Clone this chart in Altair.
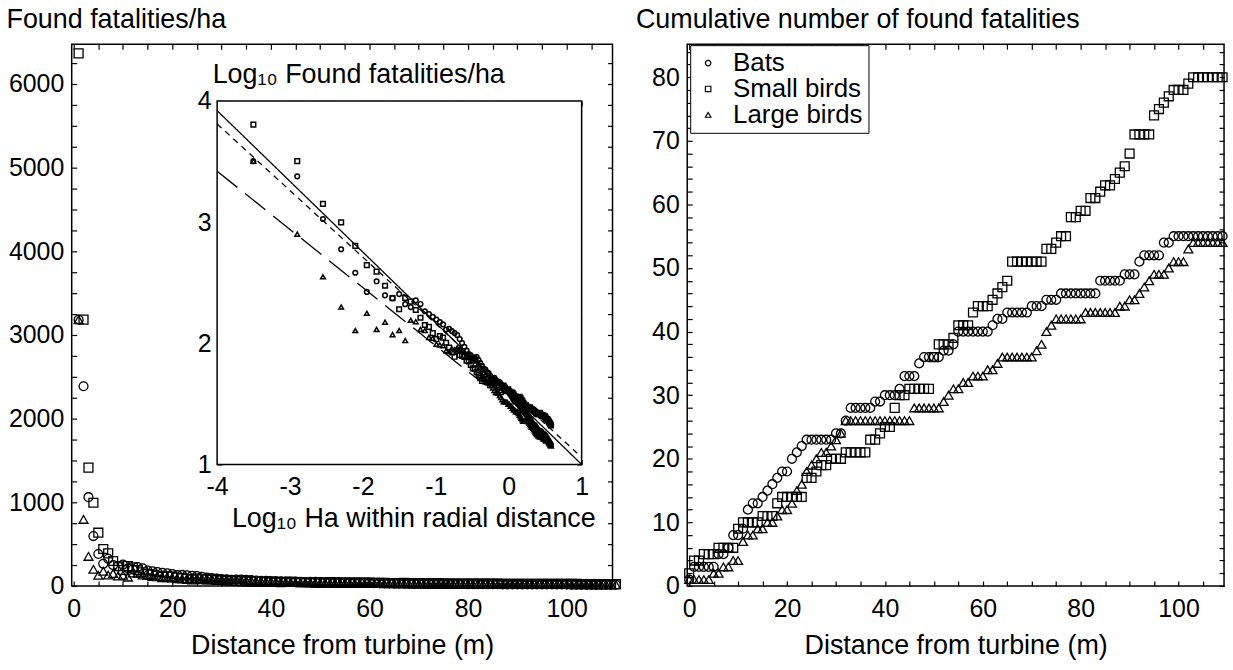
import altair as alt
import pandas as pd

FONT = "Liberation Sans"
FS = 25      # tick labels
FT = 27      # titles
FLG = 26     # legend labels

species = ["Bats", "Small birds", "Large birds"]
shapes = ["circle", "square", "triangle-up"]

# 1-m distance bins (inner radius, m)
distance_m = list(range(110))

# cumulative number of found fatalities per distance bin
bats_cum = [1, 3, 3, 3, 3, 3, 5, 5, 6, 8,
            8, 9, 12, 13, 13, 14, 15, 16, 17, 18,
            18, 20, 21, 22, 23, 23, 23, 23, 23, 23,
            24, 24, 26, 28, 28, 28, 28, 28, 29, 29,
            30, 30, 30, 31, 33, 33, 33, 35, 36, 36,
            36, 36, 37, 37, 38, 40, 40, 40, 40, 40,
            40, 40, 41, 42, 42, 43, 43, 43, 43, 43,
            44, 44, 44, 45, 45, 45, 46, 46, 46, 46,
            46, 46, 46, 46, 48, 48, 48, 48, 48, 49,
            49, 49, 51, 52, 52, 52, 52, 54, 54, 55,
            55, 55, 55, 55, 55, 55, 55, 55, 55, 55]
small_birds_cum = [2, 4, 4, 5, 5, 5, 6, 6, 6, 6,
                   9, 10, 10, 10, 10, 11, 11, 11, 13, 14,
                   14, 14, 14, 14, 17, 17, 18, 19, 19, 20,
                   20, 20, 21, 21, 21, 21, 21, 23, 23, 24,
                   25, 25, 28, 30, 30, 31, 31, 31, 31, 31,
                   36, 38, 38, 38, 39, 41, 41, 41, 43, 44,
                   44, 44, 45, 46, 47, 48, 51, 51, 51, 51,
                   51, 51, 51, 53, 53, 54, 55, 55, 58, 58,
                   59, 59, 61, 61, 62, 63, 63, 64, 65, 66,
                   68, 71, 71, 71, 71, 74, 75, 76, 77, 78,
                   78, 78, 79, 80, 80, 80, 80, 80, 80, 80]
large_birds_cum = [1, 1, 1, 1, 1, 2, 2, 3, 3, 4,
                   4, 7, 8, 8, 9, 9, 10, 10, 11, 12,
                   12, 13, 15, 16, 18, 19, 20, 21, 21, 22,
                   23, 24, 26, 26, 26, 26, 26, 26, 26, 26,
                   26, 26, 26, 26, 26, 26, 28, 28, 28, 28,
                   28, 28, 29, 30, 31, 31, 32, 32, 33, 33,
                   33, 34, 34, 35, 36, 36, 36, 36, 36, 36,
                   36, 37, 38, 40, 41, 42, 42, 42, 42, 42,
                   42, 43, 43, 43, 43, 43, 43, 43, 44, 44,
                   45, 45, 46, 47, 48, 49, 49, 49, 50, 51,
                   51, 51, 53, 54, 54, 54, 54, 54, 54, 54]

# fitted lines in the inset (log10 ha, log10 fatalities/ha)
fit_line = ["solid", "solid", "short", "short", "long", "long"]
fit_log_ha = [-4.0, 1.0, -4.0, 1.0, -4.0, -0.4]
fit_log_density = [3.92, 1.0, 3.81, 1.06, 3.42, 1.69]

# axis extents
x_dist_domain = [-0.4, 109.3]
y_density_domain = [0, 6476]
y_cum_domain = [0, 85.2]
inset_x_domain = [-4, 1]
inset_y_domain = [1, 4]

rows = []
for name, vals in zip(species, [bats_cum, small_birds_cum, large_birds_cum]):
    for d, c in zip(distance_m, vals):
        rows.append({"species": name, "dist": d, "cum": c})
df = pd.DataFrame(rows)
lines_df = pd.DataFrame({"line": fit_line, "lx": fit_log_ha, "ly": fit_log_density})
frame_df = pd.DataFrame({"x": [inset_x_domain[0]], "x2": [inset_x_domain[1]],
                         "y": [inset_y_domain[0]], "y2": [inset_y_domain[1]]})

# ---------------- layout ----------------
WL, WR, H = 543, 539, 544
TICK = 5
INSET_XR = [146, 512]
INSET_YR = [422, 57]


def ticks(start, stop, step):
    n = int(round((stop - start) / step))
    return [round(start + i * step, 6) for i in range(n + 1)]


def lab(step):
    return (f"abs(datum.value / {step} - round(datum.value / {step})) < 0.000001"
            f" ? '' + round(datum.value) : ''")


shape_scale = alt.Scale(domain=species, range=shapes)
xs_main = alt.Scale(domain=x_dist_domain, nice=False, zero=False)
ys_dens = alt.Scale(domain=y_density_domain, nice=False, zero=False)
ys_cum = alt.Scale(domain=y_cum_domain, nice=False, zero=False)
xs_in = alt.Scale(domain=inset_x_domain, range=INSET_XR, nice=False, zero=False)
ys_in = alt.Scale(domain=inset_y_domain, range=INSET_YR, nice=False, zero=False)

x_vals = ticks(0, 105, 5)

dens = alt.Chart(df).transform_calculate(
    r="datum.dist + 1",
    area_ha="PI * (datum.dist + 1) * (datum.dist + 1) / 10000",
).transform_calculate(
    density="datum.cum / datum.area_ha",
    log_ha="log(datum.area_ha) / LN10",
).transform_calculate(
    log_density="log(datum.density) / LN10",
)

L1 = dens.mark_point(filled=False, size=80, strokeWidth=1.3, color="black", opacity=1).encode(
    x=alt.X("r:Q", scale=xs_main, axis=alt.Axis(
        orient="bottom", values=x_vals, labelExpr=lab(20), offset=-TICK, labelPadding=11,
        title="Distance from turbine (m)", titleBaseline="alphabetic", titleY=73)),
    y=alt.Y("density:Q", scale=ys_dens, axis=alt.Axis(
        orient="left", values=ticks(0, 6250, 250), labelExpr=lab(1000), offset=-TICK,
        labelPadding=8, title="Found fatalities/ha", titleAngle=0, titleAlign="left",
        titleBaseline="alphabetic", titleX=-71, titleY=-17)),
    shape=alt.Shape("species:N", scale=shape_scale, legend=None),
)

L2 = dens.mark_point(opacity=0).encode(
    x=alt.X("r:Q", scale=xs_main, axis=alt.Axis(
        orient="top", values=x_vals, labels=False, offset=-TICK, title=None)),
    y=alt.Y("density:Q", scale=ys_dens, axis=alt.Axis(
        orient="right", values=ticks(0, 6250, 250), labels=False, offset=-TICK, title=None)),
)

L3 = alt.Chart(frame_df).mark_rect(fill="white", stroke="black", strokeWidth=1.5).encode(
    x=alt.X("x:Q", scale=xs_in, axis=alt.Axis(
        orient="bottom", values=ticks(-4, 1, 0.2), labelExpr=lab(1),
        offset=INSET_YR[0] - TICK - H, labelPadding=10,
        title="Log₁₀ Ha within radial distance", titleAlign="center",
        titleBaseline="alphabetic", titleX=343, titleY=67)),
    x2="x2:Q",
    y=alt.Y("y:Q", scale=ys_in, axis=alt.Axis(
        orient="left", values=ticks(1, 4, 0.2), labelExpr=lab(1),
        offset=-(INSET_XR[0] + TICK), labelPadding=6,
        title="Log₁₀ Found fatalities/ha", titleAngle=0, titleAlign="left",
        titleBaseline="alphabetic", titleX=141 - (INSET_XR[0] + TICK), titleY=38)),
    y2="y2:Q",
)

L4 = alt.Chart(lines_df).mark_line(color="black", strokeWidth=1.3).encode(
    x=alt.X("lx:Q", scale=xs_in, axis=alt.Axis(
        orient="top", values=ticks(-4, 1, 0.2), labels=False,
        offset=-(INSET_YR[1] + TICK), title=None)),
    y=alt.Y("ly:Q", scale=ys_in, axis=alt.Axis(
        orient="right", values=ticks(1, 4, 0.2), labels=False,
        offset=INSET_XR[1] - TICK - WL, title=None)),
    strokeDash=alt.StrokeDash("line:N", scale=alt.Scale(
        domain=["solid", "short", "long"], range=[[1, 0], [6, 5], [26, 10]]), legend=None),
    detail="line:N",
)

L5 = dens.mark_point(filled=False, size=22, strokeWidth=1.5, color="black", opacity=1).encode(
    x=alt.X("log_ha:Q", scale=xs_in, axis=None),
    y=alt.Y("log_density:Q", scale=ys_in, axis=None),
    shape=alt.Shape("species:N", scale=shape_scale, legend=None),
)

left = alt.layer(L1, L2, L3, L4, L5).resolve_scale(
    x="independent", y="independent").properties(width=WL, height=H)

base_r = alt.Chart(df)
R1 = base_r.mark_point(filled=False, size=80, strokeWidth=1.3, color="black", opacity=1).encode(
    x=alt.X("dist:Q", scale=xs_main, axis=alt.Axis(
        orient="bottom", values=x_vals, labelExpr=lab(20), offset=-TICK, labelPadding=11,
        title="Distance from turbine (m)", titleBaseline="alphabetic", titleY=73)),
    y=alt.Y("cum:Q", scale=ys_cum, axis=alt.Axis(
        orient="left", values=ticks(0, 84, 2), labelExpr=lab(10), offset=-TICK,
        labelPadding=8, title="Cumulative number of found fatalities", titleAngle=0,
        titleAlign="left", titleBaseline="alphabetic", titleX=-57, titleY=-17)),
    shape=alt.Shape("species:N", scale=shape_scale, legend=alt.Legend(
        orient="none", legendX=3, legendY=1, title=None, strokeColor="black",
        fillColor="white", padding=5, labelFont=FONT, labelFontSize=FLG, labelColor="black",
        symbolSize=30, symbolStrokeColor="black", symbolStrokeWidth=1.2,
        symbolFillColor="white", labelOffset=12, rowPadding=0, cornerRadius=0)),
)
R2 = base_r.mark_point(opacity=0).encode(
    x=alt.X("dist:Q", scale=xs_main, axis=alt.Axis(
        orient="top", values=x_vals, labels=False, offset=-TICK, title=None)),
    y=alt.Y("cum:Q", scale=ys_cum, axis=alt.Axis(
        orient="right", values=ticks(0, 84, 2), labels=False, offset=-TICK, title=None)),
)
right = alt.layer(R1, R2).resolve_axis(x="independent", y="independent").properties(
    width=WR, height=H)

chart = alt.hconcat(left, right, spacing=75, bounds="flush").resolve_scale(
    shape="independent"
).resolve_legend(
    shape="independent"
).properties(
    padding={"left": 5, "top": 3, "right": 2, "bottom": 2},
    background="white",
).configure_axis(
    labelFont=FONT, labelFontSize=FS, labelColor="black",
    titleFont=FONT, titleFontSize=FT, titleFontWeight="normal", titleColor="black",
    tickColor="black", tickWidth=1.2, tickSize=TICK, domain=False, grid=False,
    zindex=1, labelFlush=False, labelOverlap=False,
).configure_view(stroke="black", strokeWidth=1.5)

chart.save("out.html", embed_options={"renderer": "svg", "actions": False})
